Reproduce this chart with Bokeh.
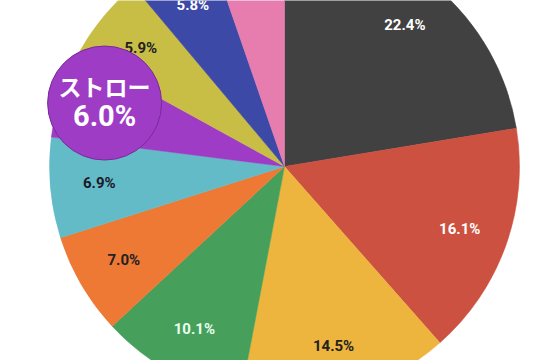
import math
from bokeh.plotting import figure
from bokeh.models import ColumnDataSource, Range1d
from bokeh.embed import file_html
from bokeh.resources import INLINE
from bokeh.core.properties import value

# data (clockwise from 12 o'clock)
categories = ["A", "B", "C", "D", "E", "F", "ストロー", "H", "I", "J"]
shares = [22.4, 16.1, 14.5, 10.1, 7.0, 6.9, 6.0, 5.9, 5.8, 5.3]
labels = ["22.4%", "16.1%", "14.5%", "10.1%", "7.0%", "6.9%", "6.0%", "5.9%", "5.8%", ""]
colors = ["#414141", "#CC5140", "#EDB43E", "#46A05C", "#EE7935", "#63BBC7",
          "#9E3CC6", "#C8BE45", "#3C49A6", "#E77CAE"]
label_colors = ["#ffffff", "#ffffff", "#222222", "#e8fff0", "#222222", "#1a1a2a",
                "#ffffff", "#222222", "#ffffff", "#ffffff"]
highlight = "ストロー"

W, H = 543, 360
cx, cy = 284, H - 166
R = 235
LR = 186

total = sum(shares)
starts, ends, lx, ly = [], [], [], []
cum = 0.0
for s in shares:
    a0 = math.pi / 2 - 2 * math.pi * cum / total
    a1 = math.pi / 2 - 2 * math.pi * (cum + s) / total
    starts.append(a1)
    ends.append(a0)
    mid = (a0 + a1) / 2
    lx.append(cx + LR * math.cos(mid))
    ly.append(cy + LR * math.sin(mid))
    cum += s

hi = categories.index(highlight)
normal = [i for i in range(len(categories)) if i != hi]

src = ColumnDataSource(dict(
    start=starts, end=ends, color=colors, x=[cx] * len(shares), y=[cy] * len(shares)))
lab = ColumnDataSource(dict(
    x=[lx[i] for i in normal], y=[ly[i] for i in normal],
    text=[labels[i] for i in normal], color=[label_colors[i] for i in normal]))

p = figure(width=W, height=H, output_backend="svg", toolbar_location=None,
           x_range=Range1d(0, W), y_range=Range1d(0, H), min_border=0)
p.axis.visible = False
p.grid.visible = False
p.outline_line_color = None
p.background_fill_color = "white"
p.border_fill_color = "white"

p.wedge(x="x", y="y", radius=R, start_angle="start", end_angle="end",
        fill_color="color", line_color="color", line_width=0.5, source=src)

p.text(x="x", y="y", text="text", text_color="color", source=lab,
       text_font=value("Roboto"), text_font_style="bold", text_font_size="15px",
       text_align="center", text_baseline="middle")

# highlighted bubble
bx, by = lx[hi] - 3, ly[hi] + 6
p.scatter(x=[bx], y=[by], size=114, marker="circle",
          fill_color=colors[hi], line_color="#7a2a9a", line_width=1)
p.text(x=[bx], y=[by + 17], text=[highlight], text_color="white",
       text_font=value("Noto Sans CJK JP"), text_font_style="bold", text_font_size="23px",
       text_align="center", text_baseline="middle")
p.text(x=[bx], y=[by - 13], text=[labels[hi]], text_color="white",
       text_font=value("Roboto"), text_font_style="bold", text_font_size="29px",
       text_align="center", text_baseline="middle")

open("out.html", "w").write(file_html(p, INLINE))
